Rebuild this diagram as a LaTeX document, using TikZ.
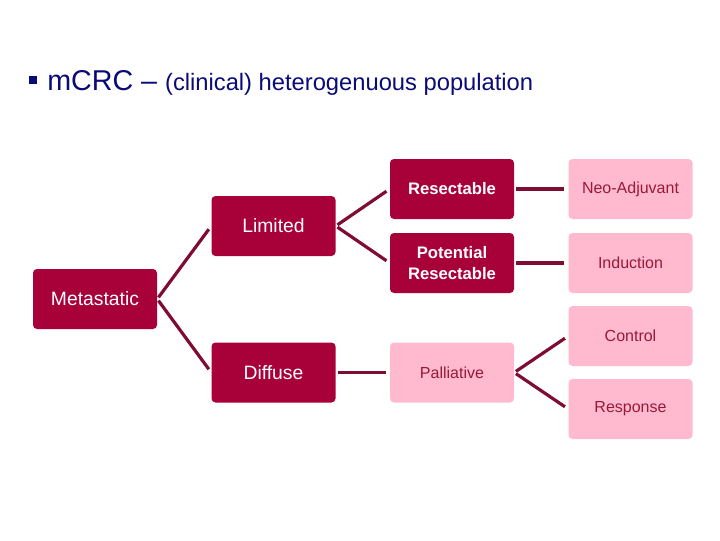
\documentclass[tikz,border=0pt]{standalone}
\usepackage{fontspec}
\setmainfont{Liberation Sans}
\begin{document}
\begin{tikzpicture}[x=0.75pt,y=-0.75pt,
  darkbox/.style={fill=boxred,rounded corners=3pt,text=white,minimum width=93pt,minimum height=45pt,align=center,inner sep=0pt},
  lightbox/.style={fill=boxpink,rounded corners=3pt,text=pinktext,minimum width=93pt,minimum height=45pt,align=center,inner sep=0pt,font=\fontsize{12}{14}\selectfont},
  link/.style={draw=linkred,line width=2.4pt,shorten <=1.5pt,shorten >=3pt}]

  \definecolor{boxred}{HTML}{A80038}
  \definecolor{boxpink}{HTML}{FFBAD0}
  \definecolor{pinktext}{HTML}{9A1838}
  \definecolor{linkred}{HTML}{7E0C33}
  \definecolor{navy}{HTML}{0A0A78}

  \useasboundingbox (0,0) rectangle (720,540);

  % title line
  \fill[navy] (29,76) rectangle (37,84);
  \node[anchor=base west,inner sep=0pt,text=navy] (title) at (47,90)
    {\fontsize{21.5}{24}\selectfont mCRC -- {\fontsize{17.8}{21}\selectfont (clinical) heterogenuous population}};

  % first and second level
  \node[darkbox,font=\fontsize{14.5}{17}\selectfont] (meta) at (95,299) {Metastatic};
  \node[darkbox,font=\fontsize{14.5}{17}\selectfont] (lim) at (273.5,226) {Limited};
  \node[darkbox,font=\fontsize{14.5}{17}\selectfont] (diff) at (273.5,372.5) {Diffuse};

  % resectability
  \node[darkbox,font=\bfseries\fontsize{12.5}{15.5}\selectfont] (res) at (452,189) {Resectable};
  \node[darkbox,font=\bfseries\fontsize{12.5}{15.5}\selectfont] (pot) at (452,263) {Potential\\Resectable};
  \node[lightbox] (pall) at (452,372.5) {Palliative};

  % treatment goals
  \node[lightbox] (neo) at (630.5,189) {Neo-Adjuvant};
  \node[lightbox] (ind) at (630.5,263) {Induction};
  \node[lightbox] (ctrl) at (630.5,336) {Control};
  \node[lightbox] (resp) at (630.5,409) {Response};

  % connectors
  \draw[link] (meta.east) -- (lim.west);
  \draw[link] (meta.east) -- (diff.west);
  \draw[link] (lim.east) -- (res.west);
  \draw[link] (lim.east) -- (pot.west);
  \draw[link] (diff.east) -- (pall.west);
  \draw[link] (res.east) -- (neo.west);
  \draw[link] (pot.east) -- (ind.west);
  \draw[link] (pall.east) -- (ctrl.west);
  \draw[link] (pall.east) -- (resp.west);

\end{tikzpicture}
\end{document}
